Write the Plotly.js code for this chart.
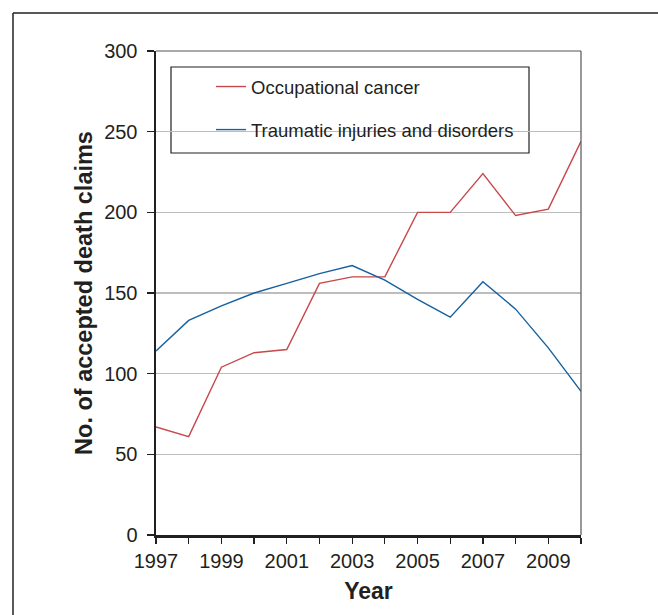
<!DOCTYPE html>
<html>
<head>
<meta charset="utf-8">
<script src="https://cdn.plot.ly/plotly-3.0.1.min.js"></script>
<style>
html,body{margin:0;padding:0;background:#fff;}
#chart{width:658px;height:615px;}
</style>
</head>
<body>
<div id="chart"></div>
<script>
const years = [1997,1998,1999,2000,2001,2002,2003,2004,2005,2006,2007,2008,2009,2010];
const cancer = [67,61,104,113,115,156,160,160,200,200,224,198,202,244];
const traumatic = [114,133,142,150,156,162,167,158,146,135,157,140,116,89];
const seriesNames = ["Occupational cancer","Traumatic injuries and disorders"];
const xTickVals = years;
const xTickText = ["1997","","1999","","2001","","2003","","2005","","2007","","2009",""];
const yTickVals = [0,50,100,150,200,250,300];

const txt = '#231f20';
const font = {family:'"Liberation Sans", Arial, Helvetica, sans-serif', color:txt};

const traces = [
  {x:years, y:cancer, name:seriesNames[0], type:'scatter', mode:'lines',
   line:{color:'#c8474b', width:1.4}, legendgroup:'a'},
  {x:years, y:traumatic, name:seriesNames[1], type:'scatter', mode:'lines',
   line:{color:'#15609f', width:1.4}, legendgroup:'b'}
];

const layout = {
  width:658, height:615,
  margin:{l:156, r:77, t:51, b:80},
  paper_bgcolor:'#fff', plot_bgcolor:'#fff',
  font: Object.assign({size:21}, font),
  showlegend:true,
  legend:{x:(211-156)/425, y:(535-68)/484, xanchor:'left', yanchor:'top',
          bgcolor:'rgba(0,0,0,0)', borderwidth:0,
          font:Object.assign({size:18.5}, font),
          tracegroupgap:16, traceorder:'grouped'},
  xaxis:{range:[1997,2010], tickmode:'array', tickvals:xTickVals, ticktext:xTickText,
         ticks:'outside', ticklen:6, tickwidth:1.2, tickcolor:'#231f20',
         showline:true, linecolor:'#231f20', linewidth:2.5,
         showgrid:false, zeroline:false, fixedrange:true,
         tickfont:Object.assign({size:20}, font),
         title:{text:'<b>Year</b>', font:Object.assign({size:23}, font), standoff:13}},
  yaxis:{range:[0,300], tickmode:'array', tickvals:yTickVals,
         ticks:'outside', ticklen:7, tickwidth:1.2, tickcolor:'#231f20',
         showline:true, linecolor:'#231f20', linewidth:2.5,
         showgrid:true, gridcolor:'#bdbdbd', gridwidth:1.2,
         zeroline:false, fixedrange:true, ticklabelstandoff:5,
         tickfont:Object.assign({size:20}, font),
         title:{text:'<b>No. of accepted death claims</b>', font:Object.assign({size:23.5}, font), standoff:5}},
  shapes:[
    {type:'line', xref:'paper', yref:'paper', x0:0, x1:1, y0:1, y1:1, line:{color:'#555', width:1.2}},
    {type:'line', xref:'paper', yref:'paper', x0:1, x1:1, y0:0, y1:1, line:{color:'#555', width:1.2}},
    {type:'rect', xref:'paper', yref:'paper', x0:(171-156)/425, x1:(529-156)/425,
     y0:(535-153)/484, y1:(535-67)/484, line:{color:'#231f20', width:1.2}, fillcolor:'#fff', layer:'below'},
    {type:'line', xref:'paper', yref:'paper', x0:(13-156)/425, x1:(660-156)/425,
     y0:(535-13)/484, y1:(535-13)/484, line:{color:'#231f20', width:1.5}},
    {type:'line', xref:'paper', yref:'paper', x0:(13-156)/425, x1:(13-156)/425,
     y0:(535-13)/484, y1:(535-620)/484, line:{color:'#231f20', width:1.5}}
  ]
};

Plotly.newPlot('chart', traces, layout, {displayModeBar:false, staticPlot:true});
</script>
</body>
</html>
